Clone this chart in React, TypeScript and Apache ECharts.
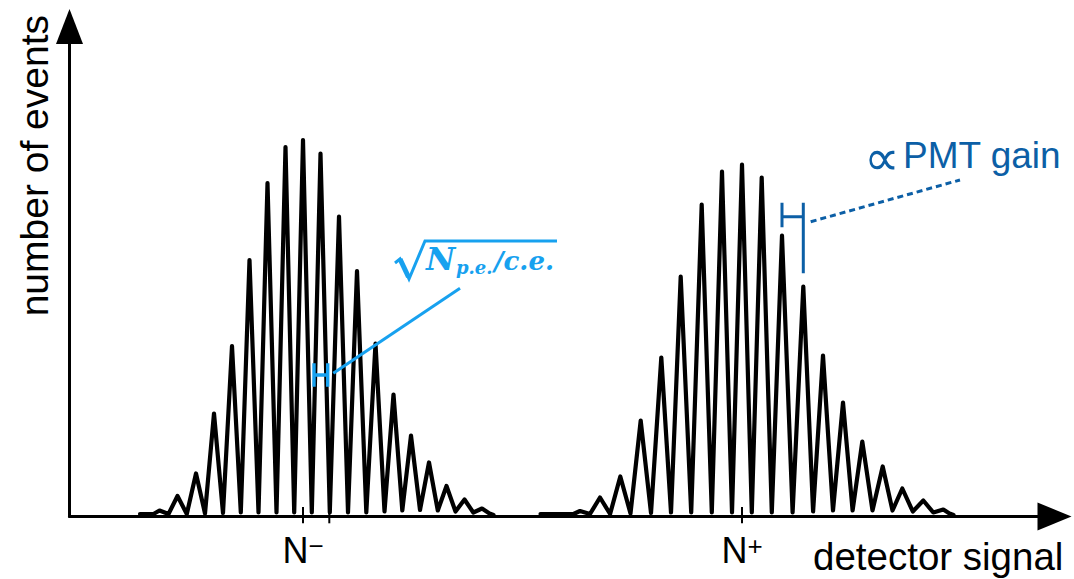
import { useEffect, useRef } from "react";
import * as echarts from "echarts";

// Charge spectrum of the N− cluster: peak positions (ADC channel) and heights (events)
const lowPeakX = [90, 108, 126.5, 144.5, 162.5, 180, 198, 216, 233.5, 251, 269.5, 287.5, 306, 324, 341.5, 359.5, 377, 395, 412.5];
const lowPeakH = [6, 20.5, 43, 103, 170.5, 256.5, 333.5, 369.5, 376.5, 363, 300, 245.5, 173, 122, 81, 54, 30.5, 17, 8];
// minima between neighbouring peaks
const lowValleyX = [99, 117.3, 135.5, 153.5, 171.3, 189, 207, 224.7, 242.3, 260.3, 278.5, 296.8, 315, 332.8, 350.5, 368.3, 386, 403.8];
const lowValleyH = [2.5, 2.5, 3, 3.5, 4, 4, 4, 4, 4, 4, 4, 4, 5, 6, 6.5, 6, 5, 4];
const lowStart = [[70.5, 2.5], [84, 2.5]];
const lowEnd = [[420, 3], [424, 1.5]];

// Charge spectrum of the N+ cluster
const highPeakX = [510.5, 530.5, 550.8, 571.2, 591.8, 611.2, 632.2, 652.5, 672.5, 692.2, 712.5, 733.8, 753.5, 773.5, 792.8, 813.2, 832.8, 853.8, 873.8];
const highPeakH = [5.5, 19, 40, 96, 159, 240, 312, 345, 352, 339, 281, 230, 161, 114, 75, 50, 28, 16, 7];
const highValleyX = [520.5, 540.6, 561, 581.5, 601.5, 621.7, 642.3, 662.5, 682.3, 702.3, 723.1, 743.6, 763.5, 783.1, 803, 823, 843.3, 863.8];
const highValleyH = [2.5, 2.5, 3, 3.5, 4, 4, 4, 4, 4, 4, 4, 5, 6, 6, 6, 6, 5, 4];
const highStart = [[471, 2.5], [504, 2.5]];
const highEnd = [[880, 3], [884, 1.5]];

// Axis ranges and marked positions
const X_MAX = 985;
const Y_MAX = 490;
const nTicks = [233.5, 259.8, 672.5];
const nLabels = [233.5, 672.5];
const tickSpan = [-6.8, 9.5];

// Width of a single photo-electron peak (light blue) and the peak spacing (dark blue)
const widthMarkX = [244.5, 258.2];
const widthMarkY = [129.8, 141.5, 153.2];
const widthLeader = [[263.8, 143.2], [390.5, 228.2]];
const gainPeakIdx = [10, 11];
const gainMarkY = [243.2, 289.2, 299.8, 313.8];
const gainLeader = [[741.2, 294.8], [890.5, 336.5]];

const LIGHT_BLUE = "#17a1ef";
const DARK_BLUE = "#0c5fa6";

function buildTrace(start: number[][], px: number[], ph: number[], vx: number[], vh: number[], end: number[][]) {
  const pts: number[][] = [...start];
  px.forEach((x, i) => {
    pts.push([x, ph[i]]);
    if (i < vx.length) pts.push([vx[i], vh[i]]);
  });
  return pts.concat(end);
}

function segmentSeries(name: string, data: number[][], color: string, width: number, type: any = "solid") {
  return {
    name,
    type: "line",
    data,
    showSymbol: false,
    symbol: "none",
    clip: false,
    silent: true,
    z: 5,
    lineStyle: { color, width, type, cap: "butt", join: "miter" },
  };
}

export default function App() {
  const ref = useRef<HTMLDivElement>(null);

  useEffect(() => {
    if (!ref.current) return;
    const chart = echarts.init(ref.current, undefined, { renderer: "svg" });

    const lowTrace = buildTrace(lowStart, lowPeakX, lowPeakH, lowValleyX, lowValleyH, lowEnd);
    const highTrace = buildTrace(highStart, highPeakX, highPeakH, highValleyX, highValleyH, highEnd);

    const [wl, wr] = widthMarkX;
    const [wb, wm, wt] = widthMarkY;
    const widthMark = [[wl, wt], [wl, wb], [wl, wm], [wr, wm], [wr, wt], [wr, wb]];

    const gl = highPeakX[gainPeakIdx[0]];
    const gr = highPeakX[gainPeakIdx[1]];
    const [gRb, gLb, gm, gt] = gainMarkY;
    const gainMark = [[gl, gt], [gl, gLb], [gl, gm], [gr, gm], [gr, gt], [gr, gRb]];

    const traceStyle = { color: "#000", width: 4.2, join: "round", cap: "round" };

    const series: any[] = [
      { name: "N−", type: "line", data: lowTrace, showSymbol: false, symbol: "none", lineStyle: traceStyle, silent: true, z: 3 },
      { name: "N+", type: "line", data: highTrace, showSymbol: false, symbol: "none", lineStyle: traceStyle, silent: true, z: 3 },
    ];
    nTicks.forEach((x, i) => {
      series.push(segmentSeries("tick" + i, [[x, tickSpan[0]], [x, tickSpan[1]]], "#000", 2));
    });
    series.push(segmentSeries("peak width", widthMark, LIGHT_BLUE, 3.4));
    series.push(segmentSeries("peak width leader", widthLeader, LIGHT_BLUE, 3));
    series.push(segmentSeries("gain", gainMark, DARK_BLUE, 3));
    series.push(segmentSeries("gain leader", gainLeader, DARK_BLUE, 3, [6, 4]));

    const mathFont = "DejaVu Serif";
    const mathStyle = { fontFamily: mathFont, fontStyle: "italic", fontWeight: "bold", fill: LIGHT_BLUE, align: "left", verticalAlign: "middle" };

    chart.setOption({
      animation: false,
      backgroundColor: "#fff",
      grid: { left: 69.5, right: 1074 - 69.5 - X_MAX, top: 26.5, bottom: 62.5, containLabel: false },
      xAxis: {
        type: "value",
        min: 0,
        max: X_MAX,
        axisLine: {
          show: true,
          symbol: ["none", "triangle"],
          symbolSize: [28, 34],
          lineStyle: { color: "#000", width: 3 },
        },
        axisTick: { show: false },
        splitLine: { show: false },
        axisLabel: {
          show: true,
          customValues: nLabels,
          margin: 16,
          formatter: (v: number) => (v === nLabels[0] ? "{n|N}{s|−}" : "{n|N}{s|+}"),
          rich: {
            n: { fontSize: 36, fontFamily: "Liberation Sans", color: "#000" },
            s: { fontSize: 26, fontFamily: "Liberation Sans", color: "#000", verticalAlign: "top" },
          },
        },
      },
      yAxis: {
        type: "value",
        min: 0,
        max: Y_MAX,
        axisLine: {
          show: true,
          symbol: ["none", "triangle"],
          symbolSize: [27, 35],
          lineStyle: { color: "#000", width: 3 },
        },
        axisTick: { show: false },
        axisLabel: { show: false },
        splitLine: { show: false },
      },
      series,
      graphic: [
        {
          type: "text",
          x: 34,
          y: 15,
          rotation: Math.PI / 2,
          style: { text: "number of events", fontSize: 39, fontFamily: "Liberation Sans", fill: "#000", align: "right", verticalAlign: "middle" },
        },
        {
          type: "text",
          x: 813,
          y: 556,
          style: { text: "detector signal", fontSize: 38.5, fontFamily: "Liberation Sans", fill: "#000", align: "left", verticalAlign: "middle" },
        },
        {
          type: "text",
          x: 864,
          y: 158,
          style: { text: "∝", fontSize: 50, fontFamily: "DejaVu Sans ExtraLight, DejaVu Sans", fill: DARK_BLUE, align: "left", verticalAlign: "middle" },
        },
        {
          type: "text",
          x: 903,
          y: 155.5,
          style: { text: "PMT gain", fontSize: 37, fontFamily: "Liberation Sans", fill: DARK_BLUE, align: "left", verticalAlign: "middle" },
        },
        {
          type: "polyline",
          shape: { points: [[395, 263], [400, 259], [409, 279], [425, 241], [557, 241]] },
          style: { stroke: LIGHT_BLUE, lineWidth: 3, fill: null, lineJoin: "miter" },
        },
        {
          type: "line",
          shape: { x1: 400, y1: 259, x2: 408.5, y2: 277 },
          style: { stroke: LIGHT_BLUE, lineWidth: 5 },
        },
        { type: "text", x: 426, y: 259, style: { ...mathStyle, text: "N", fontSize: 32 } },
        { type: "text", x: 456, y: 267, style: { ...mathStyle, text: "p.e.", fontSize: 18 } },
        { type: "text", x: 494, y: 261, style: { ...mathStyle, text: "/c.e.", fontSize: 26 } },
      ],
    });

    return () => chart.dispose();
  }, []);

  return <div ref={ref} style={{ position: "fixed", left: 0, top: 0, width: 1074, height: 579 }} />;
}
